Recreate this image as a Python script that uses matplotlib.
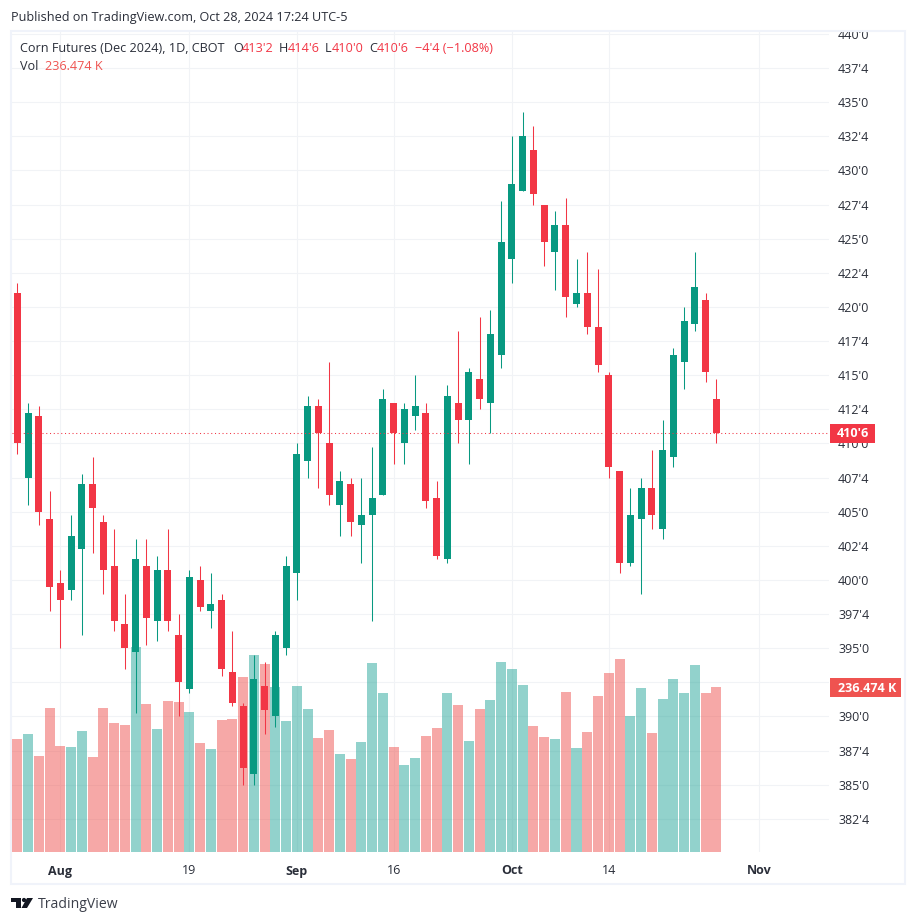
import matplotlib
matplotlib.use('Agg')
import matplotlib.pyplot as plt
from matplotlib.patches import Rectangle, Polygon, Circle

plt.rcParams['font.family'] = ['Open Sans', 'DejaVu Sans']

W, H = 916, 923
UP = '#089981'
DOWN = '#F23645'
VOL_UP = '#26A69A'
VOL_DOWN = '#EF5350'
GRID = '#F1F3F6'
FRAME = '#F0F3FA'
TEXT = '#2A2E39'

opens = [421, 407.5, 412, 404.5, 399.75, 399.25, 402.25, 407, 404.25, 401,
         396.75, 394.75, 401, 397, 400.75, 396, 392, 400, 397.75, 398.5,
         393.25, 390.75, 385.75, 392.25, 390, 395, 400.5, 408.75, 412.75, 410,
         405.5, 407, 404, 404.75, 406.25, 413, 410, 412, 412.25, 406,
         401.5, 413, 411.75, 414.75, 413, 416.5, 423.5, 428.5, 431.5, 427.5,
         424, 426, 420.25, 421, 418.5, 415, 408, 401.25, 404.5, 406.75,
         403.75, 409, 416, 418.75, 420.5, 413.25]
highs = [421.75, 413, 412.75, 406.5, 400.75, 404.75, 407.75, 409, 404.75, 403.75,
         399, 403, 403, 401.75, 403.75, 397.5, 400.75, 401, 400.5, 399,
         396.25, 391, 394.5, 394, 396.25, 401.75, 410, 413.5, 413.25, 416,
         408, 407.5, 407.5, 409.75, 414, 413, 413, 415, 413, 407.25,
         414.25, 418.25, 415.5, 419.25, 419.75, 427.75, 432.5, 434.25, 433.25, 427.5,
         427, 428, 423.5, 424, 422.75, 415.25, 408, 406.75, 407.5, 409.5,
         411.75, 417, 420, 424, 421, 414.75]
lows = [409.25, 405.5, 404, 397.75, 395, 398.5, 396, 402, 399, 396.25,
        393.5, 390.25, 395.25, 395.5, 396.25, 390, 391.75, 397.75, 396.5, 393,
        390.75, 385, 385, 388.75, 389.25, 394.5, 398.5, 407.5, 406.75, 405.5,
        403.25, 403.25, 401.25, 397, 406.25, 408.5, 408.5, 411, 405.25, 401.5,
        401.25, 410, 408.5, 412.5, 410.75, 415.5, 421.75, 428.5, 427.5, 423,
        421.25, 419.25, 420, 418, 415.25, 407.5, 400.5, 401, 399, 403.75,
        403, 408.25, 414, 418.25, 414.5, 410]
closes = [410, 412.25, 405, 399.5, 398.5, 403.25, 407, 405.25, 400.75, 397,
          395, 401.5, 397.25, 400.75, 397, 392.5, 400.25, 398, 398.25, 393.5,
          391, 386.25, 392.75, 390.5, 396, 401, 409.25, 412.75, 410.75, 406.25,
          407.25, 404.25, 404.75, 406, 413.25, 410.75, 412.5, 412.75, 405.75, 401.75,
          413.5, 411.75, 415.25, 413.25, 418, 424.75, 429, 432.5, 428.25, 424.75,
          426, 420.75, 421, 418.5, 415.75, 408.25, 401.25, 404.75, 406.75, 404.75,
          409.5, 416.5, 419, 421.5, 415.25, 410.75]
volumes = [162, 169, 137.6, 206.4, 152, 150.5, 173.4, 136, 206.4, 185,
           182, 293.8, 212, 176.3, 216.4, 215, 200.6, 156, 147.6, 189,
           190.6, 250.8, 282.3, 269.4, 236.5, 187.7, 238, 205, 163.4, 174.8,
           140.5, 133.3, 157.7, 270.9, 227.9, 150.5, 124.7, 134.7, 166.3, 177.7,
           227.9, 210.7, 159, 205, 217.8, 272.3, 262.3, 239.3, 180.6, 164.8,
           162, 229.3, 149, 172, 223.6, 256.5, 276.6, 195, 235, 170.6,
           219.3, 248, 227.9, 268, 227.9, 236.474]
# colour of each volume bar, it follows the session before in a few places
vol_up = [0, 1, 0, 0, 0, 1, 1, 0, 0, 0,
          0, 1, 0, 1, 0, 0, 1, 0, 1, 0,
          0, 0, 1, 0, 1, 1, 1, 1, 0, 0,
          1, 0, 1, 1, 1, 0, 1, 1, 0, 0,
          1, 0, 1, 0, 1, 1, 1, 1, 0, 0,
          1, 0, 1, 0, 0, 0, 0, 1, 1, 0,
          1, 1, 1, 1, 0, 0]

date_ticks = [4, 16, 26, 35, 46, 55, 69]
date_labels = ['Aug', '19', 'Sep', '16', 'Oct', '14', 'Nov']
month_labels = ['Aug', 'Sep', 'Oct', 'Nov']
price_ticks = [382.5 + 2.5 * k for k in range(24)]
hidden_price_label = 392.5  # sits under the volume tag

last_close = 410.75
last_label = "410'6"
vol_label = '236.474 K'


def px(x, y):
    return x / W, 1 - y / H


def price_fmt(p):
    if p == hidden_price_label:
        return ''
    whole = int(p)
    return f"{whole}'{int((p - whole) * 8)}"


def put(x, y, s, **kw):
    kw.setdefault('color', TEXT)
    kw.setdefault('fontsize', 9.1)
    kw.setdefault('va', 'center')
    return fig.text(*px(x, y), s, **kw)


fig = plt.figure(figsize=(W / 100, H / 100), dpi=100, facecolor='white')
left, top, right, bottom = 12, 31, 829, 852
ax = fig.add_axes([left / W, 1 - bottom / H, (right - left) / W, (bottom - top) / H])

x = list(range(len(closes)))
xlim = (-0.493, 75.48)
ylim = (380.07, 440.22)

ax_vol = ax.twinx()
ax_c = ax.twinx()

# grid goes on the bottom axes so the volume bars sit over it
ax.set_xlim(xlim)
ax.set_ylim(ylim)
ax.set_xticks(date_ticks, date_labels)
ax.set_yticks(price_ticks, [price_fmt(p) for p in price_ticks])
ax.yaxis.tick_right()
ax.grid(True, color=GRID, linewidth=0.8)
ax.set_axisbelow(True)
ax.tick_params(axis='y', length=0, pad=6.5, labelsize=9, labelcolor=TEXT)
ax.tick_params(axis='x', length=0, pad=9, labelsize=9, labelcolor=TEXT)
for lab in ax.get_xticklabels():
    if lab.get_text() in month_labels:
        lab.set_fontweight('bold')
for s in ax.spines.values():
    s.set_visible(False)

ax_vol.set_ylim(0, 1176.7)
ax_vol.axis('off')
ax_vol.set_zorder(ax.get_zorder() + 1)
ax_vol.patch.set_visible(False)
ax_vol.bar(x, volumes, width=0.93, alpha=0.5, linewidth=0,
           color=[VOL_UP if u else VOL_DOWN for u in vol_up])

ax_c.set_ylim(ylim)
ax_c.axis('off')
ax_c.set_zorder(ax_vol.get_zorder() + 1)
ax_c.patch.set_visible(False)
colors = [UP if c >= o else DOWN for o, c in zip(opens, closes)]
ax_c.vlines(x, lows, highs, colors=colors, linewidth=0.75)
ax_c.bar(x, [abs(c - o) for o, c in zip(opens, closes)],
         bottom=[min(o, c) for o, c in zip(opens, closes)],
         width=0.65, color=colors, linewidth=0)
ax_c.axhline(last_close, color=DOWN, linewidth=0.75, linestyle=(0, (1, 2.6)))

# outer frame
fig.add_artist(Rectangle(px(11, 883.5), 894 / W, 853 / H, transform=fig.transFigure,
                         fill=False, edgecolor=FRAME, linewidth=1.5))

# last value tags on the price scale
fig.add_artist(Rectangle(px(830, 443), 45 / W, 19 / H, transform=fig.transFigure,
                         facecolor=DOWN, edgecolor='none', zorder=5))
put(853, 433.8, last_label, color='white', ha='center', fontweight='bold', zorder=6, fontsize=9)
fig.add_artist(Rectangle(px(830, 697), 70.5 / W, 19 / H, transform=fig.transFigure,
                         facecolor=VOL_DOWN, edgecolor='none', zorder=5))
put(867, 688, vol_label, color='white', ha='center', fontweight='bold', zorder=6, fontsize=9)

# header and legend
put(11, 18, 'Published on TradingView.com, Oct 28, 2024 17:24 UTC-5')
put(20, 48, 'Corn Futures (Dec 2024), 1D, CBOT')
for xpos, s, col in [(233, 'O', TEXT), (242, "413'2", DOWN), (279, 'H', TEXT), (288, "414'6", DOWN),
                     (325, 'L', TEXT), (332, "410'0", DOWN), (369, 'C', TEXT), (377, "410'6", DOWN),
                     (415, "\u22124'4 (\u22121.08%)", DOWN)]:
    put(xpos, 48, s, color=col)
put(20, 67, 'Vol')
put(45, 67, vol_label, color=VOL_DOWN)

# logo
logo = '#131722'
for shape in [Polygon([px(11, 898), px(21, 898), px(21, 908), px(16, 908), px(16, 902), px(11, 902)],
                      closed=True, transform=fig.transFigure, facecolor=logo, edgecolor='none'),
              Polygon([px(27, 898), px(33, 898), px(27, 908), px(21.5, 908)],
                      closed=True, transform=fig.transFigure, facecolor=logo, edgecolor='none')]:
    fig.add_artist(shape)
fig.add_artist(Circle(px(24, 900), 2.1 / W, transform=fig.transFigure, facecolor=logo, edgecolor='none'))
put(38, 904, 'TradingView', fontsize=10.1, color='#3b3f4a')

fig.savefig('out.png', dpi=100)
